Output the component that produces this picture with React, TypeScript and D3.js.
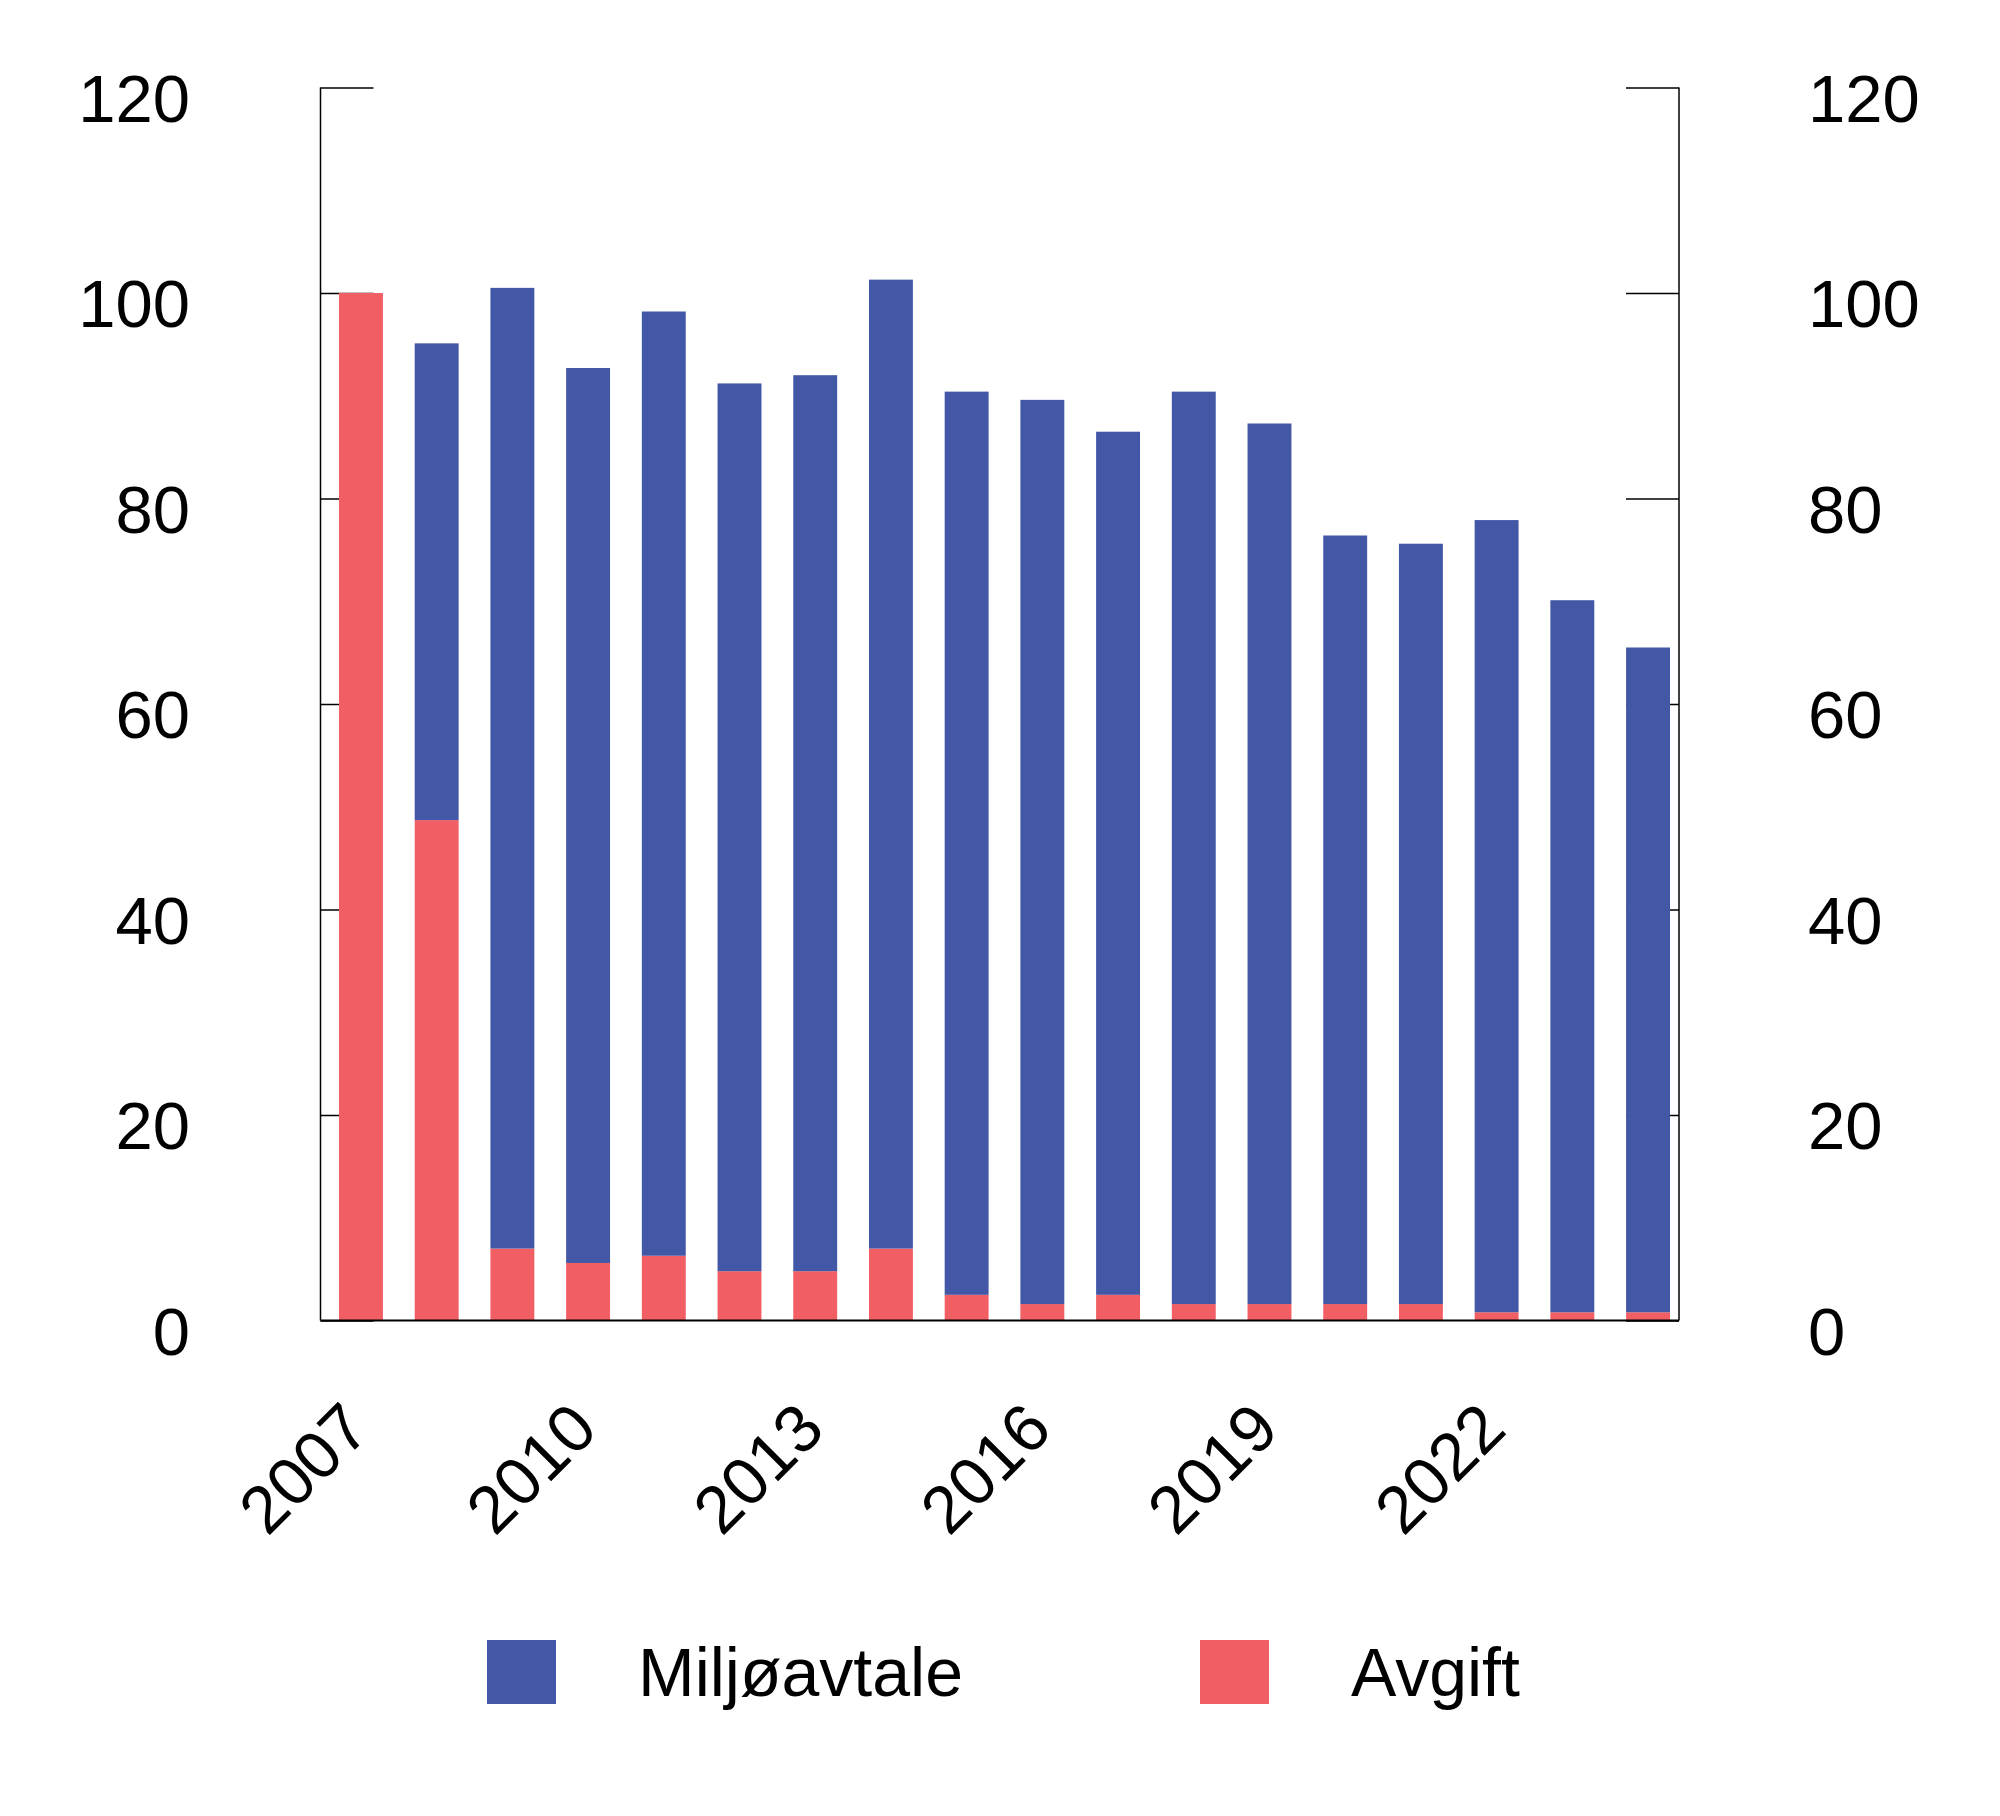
import React, { useEffect, useRef } from 'react';
import * as d3 from 'd3';

// Years on the x axis
const years = [
    '2007', '2008', '2009', '2010', '2011', '2012', '2013', '2014', '2015',
    '2016', '2017', '2018', '2019', '2020', '2021', '2022', '2023', '2024',
];
const yearLabels = ['2007', '2010', '2013', '2016', '2019', '2022'];

// Series values
const avgift = [100, 48.7, 7.0, 5.6, 6.3, 4.8, 4.8, 7.0, 2.5, 1.6, 2.5, 1.6, 1.6, 1.6, 1.6, 0.8, 0.8, 0.8];
const miljoavtale = [0, 46.4, 93.5, 87.1, 91.9, 86.4, 87.2, 94.3, 87.9, 88.0, 84.0, 88.8, 85.7, 74.8, 74.0, 77.1, 69.3, 64.7];

const yTicks = [0, 20, 40, 60, 80, 100, 120];

const seriesNames = ['Miljøavtale', 'Avgift'];
const seriesColors = ['#4257a6', '#f15e64'];

const W = 2000;
const H = 1816;
const FONT = "'Liberation Sans', Arial, Helvetica, sans-serif";

export default function App() {
    const svgRef = useRef<SVGSVGElement>(null);

    useEffect(() => {
        if (!svgRef.current) return;
        const svg = d3.select(svgRef.current);
        svg.selectAll('*').remove();

        const left = 320.5;
        const right = 1679;
        const top = 87.5;
        const bottom = 1320.5;
        const tickLen = 53;

        const y = d3.scaleLinear().domain([0, 120]).range([bottom, top]);
        const x = d3.scaleBand<string>()
            .domain(years)
            .range([339, 1670])
            .paddingInner(0.42)
            .paddingOuter(0);

        // inward ticks (drawn under the bars)
        const leftAxis = d3.axisRight(y).tickValues(yTicks).tickSize(tickLen).tickSizeOuter(0).tickFormat(() => '');
        const rightAxis = d3.axisLeft(y).tickValues(yTicks).tickSize(tickLen).tickSizeOuter(0).tickFormat(() => '');

        const gl = svg.append('g').attr('transform', `translate(${left},0)`).call(leftAxis);
        const gr = svg.append('g').attr('transform', `translate(${right},0)`).call(rightAxis);
        [gl, gr].forEach(g => {
            g.select('.domain').remove();
            g.selectAll('.tick line').attr('stroke', '#000').attr('stroke-width', 1.6);
        });

        // stacked bars
        const rows = years.map((yr, i) => ({ year: yr, Avgift: avgift[i], Miljøavtale: miljoavtale[i] }));
        const stack = d3.stack<any>().keys(['Avgift', 'Miljøavtale']);
        const layers = stack(rows);
        const colorOf: Record<string, string> = { Avgift: seriesColors[1], Miljøavtale: seriesColors[0] };

        svg.append('g')
            .selectAll('g')
            .data(layers)
            .join('g')
            .attr('fill', d => colorOf[d.key])
            .selectAll('rect')
            .data(d => d)
            .join('rect')
            .attr('x', d => x(d.data.year)!)
            .attr('width', x.bandwidth())
            .attr('y', d => y(d[1]))
            .attr('height', d => Math.max(0, y(d[0]) - y(d[1])));

        // frame lines
        svg.append('line').attr('x1', left).attr('x2', left).attr('y1', top).attr('y2', bottom)
            .attr('stroke', '#000').attr('stroke-width', 1.5);
        svg.append('line').attr('x1', right).attr('x2', right).attr('y1', top).attr('y2', bottom)
            .attr('stroke', '#000').attr('stroke-width', 1.5);
        svg.append('line').attr('x1', left).attr('x2', right).attr('y1', bottom).attr('y2', bottom)
            .attr('stroke', '#000').attr('stroke-width', 2.2);

        // y labels, both sides
        const labelSize = 67;
        svg.append('g')
            .selectAll('text')
            .data(yTicks)
            .join('text')
            .attr('x', 190)
            .attr('y', d => y(d) + 34)
            .attr('text-anchor', 'end')
            .style('font-family', FONT)
            .style('font-size', `${labelSize}px`)
            .attr('fill', '#000')
            .text(d => d);

        svg.append('g')
            .selectAll('text')
            .data(yTicks)
            .join('text')
            .attr('x', 1808)
            .attr('y', d => y(d) + 34)
            .attr('text-anchor', 'start')
            .style('font-family', FONT)
            .style('font-size', `${labelSize}px`)
            .attr('fill', '#000')
            .text(d => d);

        // x labels, rotated
        svg.append('g')
            .selectAll('text')
            .data(yearLabels)
            .join('text')
            .attr('transform', d => `translate(${x(d)! + x.bandwidth() / 2 + 12},1432) rotate(-45)`)
            .attr('text-anchor', 'end')
            .style('font-family', FONT)
            .style('font-size', `${labelSize}px`)
            .attr('fill', '#000')
            .text(d => d);

        // legend
        const legendX = [487, 1200];
        const legend = svg.append('g')
            .selectAll('g')
            .data(seriesNames)
            .join('g')
            .attr('transform', (_, i) => `translate(${legendX[i]},1640)`);
        legend.append('rect')
            .attr('width', 69)
            .attr('height', 64)
            .attr('fill', (_, i) => seriesColors[i]);
        legend.append('text')
            .attr('x', 151)
            .attr('y', 56)
            .style('font-family', FONT)
            .style('font-size', '68px')
            .attr('fill', '#000')
            .text(d => d);
    }, []);

    return (
        <svg
            ref={svgRef}
            width={W}
            height={H}
            style={{ position: 'absolute', left: 0, top: 0, background: '#fff', display: 'block' }}
        />
    );
}
